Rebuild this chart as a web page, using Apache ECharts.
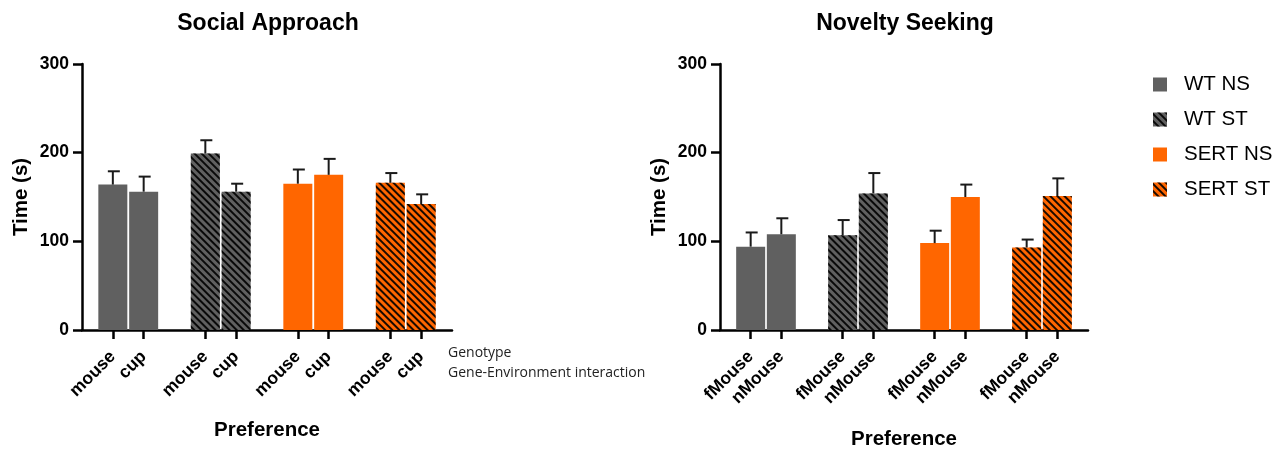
<!DOCTYPE html>
<html>
<head>
<meta charset="utf-8">
<script src="https://cdn.jsdelivr.net/npm/echarts@6/dist/echarts.min.js"></script>
<style>html,body{margin:0;padding:0;background:#fff}#c{width:1287px;height:452px}</style>
</head>
<body>
<div id="c"></div>
<script>
const groups = ['WT NS', 'WT ST', 'SERT NS', 'SERT ST'];
const socialLabels = ['mouse', 'cup'];
const socialMeans = [[164, 156], [199, 156], [165, 175], [166, 142]];
const socialErr = [[15, 17], [15, 9], [16, 18], [11, 11]];
const noveltyLabels = ['fMouse', 'nMouse'];
const noveltyMeans = [[94, 108], [107, 154], [98, 150], [93, 151]];
const noveltyErr = [[16, 18], [17, 23], [14, 14], [9, 20]];
const yTicks = [0, 100, 200, 300];
const titles = ['Social Approach', 'Novelty Seeking'];
const extraNotes = ['Genotype', 'Gene-Environment interaction'];

const GRAY = '#606060', ORANGE = '#ff6600';
const colors = [GRAY, GRAY, ORANGE, ORANGE];
const hatched = [false, true, false, true];
const FONT = '"Liberation Sans", Arial, sans-serif';

// categories: '' spacer at both ends and between groups (boundaryGap false)
function buildCats(labels) {
  const cats = [''];
  groups.forEach(() => {
    labels.forEach(l => cats.push(l));
    cats.push('');
  });
  return cats;
}
function catIndex(gi, li) { return 1 + gi * 3 + li; }

const hatchDecal = {
  symbol: 'rect',
  color: 'rgba(0,0,0,0.9)',
  dashArrayX: [1, 0],
  dashArrayY: [1.5, 2.8],
  rotation: Math.PI / 4,
  symbolSize: 1
};

const panels = [
  { labels: socialLabels, means: socialMeans, err: socialErr, left: 82, width: 370, nameGap: 90 },
  { labels: noveltyLabels, means: noveltyMeans, err: noveltyErr, left: 720, width: 368, nameGap: 99 }
];

const grid = [], xAxis = [], yAxis = [], series = [], title = [];
panels.forEach((p, pi) => {
  const cats = buildCats(p.labels);
  grid.push({ left: p.left, width: p.width, top: 64, height: 266, containLabel: false, outerBoundsMode: 'none' });
  xAxis.push({
    type: 'category', gridIndex: pi, data: cats, boundaryGap: false,
    name: 'Preference', nameLocation: 'middle', nameGap: p.nameGap,
    nameTextStyle: { fontFamily: FONT, fontWeight: 'bold', fontSize: 20.5, color: '#000' },
    axisLine: { lineStyle: { color: '#000', width: 2.5 } },
    axisTick: { show: true, length: 9, lineStyle: { color: '#000', width: 2.5 },
      interval: (i, v) => v !== '' },
    axisLabel: { interval: 0, rotate: 45, fontFamily: FONT, fontWeight: 'bold', fontSize: 17.5, color: '#000', margin: 24 },
    splitLine: { show: false }
  });
  yAxis.push({
    type: 'value', gridIndex: pi, min: yTicks[0], max: yTicks[yTicks.length - 1], interval: yTicks[1] - yTicks[0],
    name: 'Time (s)', nameLocation: 'middle', nameGap: 50,
    nameTextStyle: { fontFamily: FONT, fontWeight: 'bold', fontSize: 20.5, color: '#000' },
    axisLine: { show: true, lineStyle: { color: '#000', width: 2.5 } },
    axisTick: { show: true, length: 9, lineStyle: { color: '#000', width: 2.5 } },
    axisLabel: { fontFamily: FONT, fontWeight: 'bold', fontSize: 17.5, color: '#000', margin: 13 },
    splitLine: { show: false }
  });
  title.push({
    text: titles[pi], left: p.left + p.width / 2 - 4, top: 7, textAlign: 'center',
    textStyle: { fontFamily: FONT, fontWeight: 'bold', fontSize: 23, color: '#000' }
  });
  groups.forEach((g, gi) => {
    const data = cats.map(() => '-');
    p.labels.forEach((l, li) => { data[catIndex(gi, li)] = p.means[gi][li]; });
    const itemStyle = { color: colors[gi] };
    if (hatched[gi]) itemStyle.decal = hatchDecal;
    series.push({
      type: 'bar', name: g, xAxisIndex: pi, yAxisIndex: pi, data: data,
      barWidth: 29, barGap: '-100%', itemStyle: itemStyle, z: 2
    });
  });
  const errData = [];
  groups.forEach((g, gi) => p.labels.forEach((l, li) => {
    errData.push([catIndex(gi, li), p.means[gi][li], p.err[gi][li]]);
  }));
  series.push({
    type: 'custom', xAxisIndex: pi, yAxisIndex: pi, data: errData, z: 3, silent: true,
    encode: { x: 0, y: 1 },
    renderItem: function (params, api) {
      const x = api.value(0), m = api.value(1), e = api.value(2);
      const b = api.coord([x, m]);
      const t = api.coord([x, m + e]);
      const style = { stroke: '#1a1a1a', lineWidth: 2 };
      return { type: 'group', children: [
        { type: 'line', shape: { x1: b[0], y1: b[1], x2: t[0], y2: t[1] }, style: style },
        { type: 'line', shape: { x1: t[0] - 5, y1: t[1], x2: t[0] + 7, y2: t[1] }, style: style }
      ] };
    }
  });
});

extraNotes.forEach((n, i) => {
  title.push({ text: n, left: 443, top: 341 + i * 20,
    textStyle: { fontFamily: '"Open Sans", "Noto Sans", sans-serif', fontWeight: 'normal', fontSize: 14, color: '#222' } });
});

const chart = echarts.init(document.getElementById('c'), null, { renderer: 'canvas' });
chart.setOption({
  backgroundColor: '#fff',
  animation: false,
  aria: { enabled: false },
  title: title,
  legend: {
    data: groups, orient: 'vertical', left: 1148, top: 69, itemGap: 14,
    itemWidth: 14, itemHeight: 14, icon: 'rect',
    textStyle: { fontFamily: FONT, fontSize: 20.5, color: '#000', padding: [0, 0, 0, 12] }
  },
  grid: grid, xAxis: xAxis, yAxis: yAxis, series: series
});
</script>
</body>
</html>
